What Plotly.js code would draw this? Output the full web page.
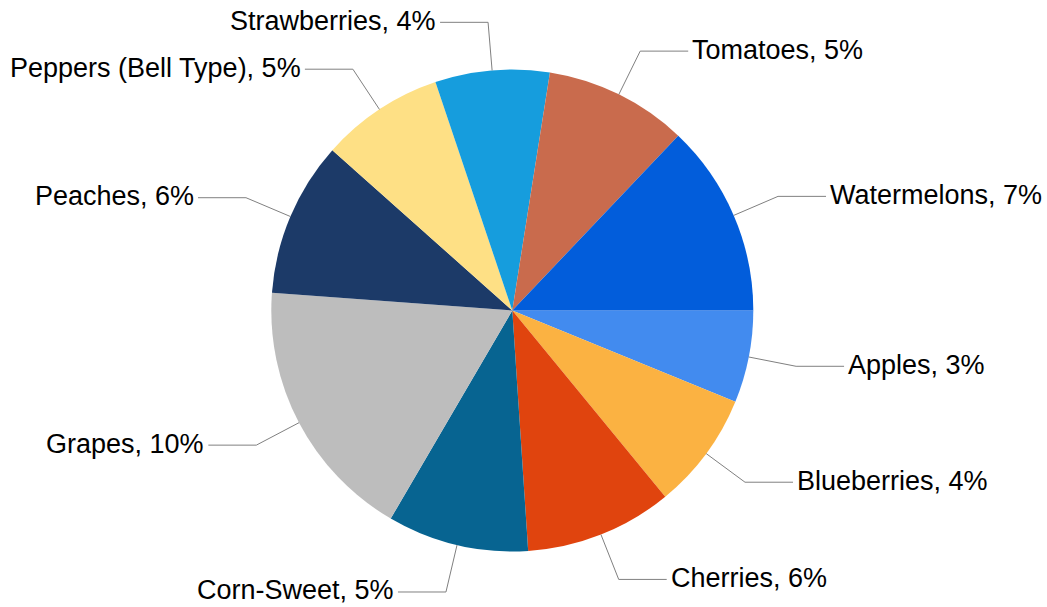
<!DOCTYPE html>
<html>
<head>
<meta charset="utf-8">
<script src="https://cdn.plot.ly/plotly-3.0.1.min.js"></script>
<style>html,body{margin:0;padding:0;background:#fff;}#chart{width:1047px;height:607px;}</style>
</head>
<body>
<div id="chart"></div>
<script>
// Data
const categories = ["Apples", "Blueberries", "Cherries", "Corn-Sweet", "Grapes", "Peaches",
  "Peppers (Bell Type)", "Strawberries", "Tomatoes", "Watermelons"];
const shares = [3.46, 4.41, 5.54, 5.30, 9.94, 5.83, 4.62, 4.29, 5.37, 7.23];
const sliceColors = ["#428bef", "#fbb242", "#e0440e", "#076491", "#bdbdbd", "#1c3a68",
  "#fee085", "#169ddd", "#c96b4d", "#025ddb"];

const W = 1047, H = 607;
const cx = 512.3, cy = 310.5, R = 241;   // pie centre / radius in px
const dom = {
  x: [(cx - R) / W, (cx + R) / W],
  y: [1 - (cy + R) / H, 1 - (cy - R) / H]
};

// leader lines + labels derived from slice mid-angles
const total = shares.reduce((a, b) => a + b, 0);
const shapes = [], annotations = [];
let acc = 0;
const px = x => x / W, py = y => 1 - y / H;
shares.forEach((v, i) => {
  const mid = (acc + v / 2) / total * 2 * Math.PI;   // clockwise from 3 o'clock
  acc += v;
  const c = Math.cos(mid), s = Math.sin(mid);
  const x0 = cx + R * c, y0 = cy + R * s;
  const x1 = cx + 1.2 * R * c, y1 = cy + 1.2 * R * s;
  const dir = c >= 0 ? 1 : -1;
  const x2 = x1 + dir * 48;
  shapes.push({
    type: "path", xref: "paper", yref: "paper",
    path: `M ${px(x0)} ${py(y0)} L ${px(x1)} ${py(y1)} L ${px(x2)} ${py(y1)}`,
    line: {color: "#808080", width: 1}
  });
  annotations.push({
    xref: "paper", yref: "paper", x: px(x2 + dir * 4), y: py(y1 - 1.5),
    xanchor: dir > 0 ? "left" : "right", yanchor: "middle",
    text: categories[i] + ", " + Math.round(v) + "%",
    showarrow: false, borderpad: 0, borderwidth: 0,
    font: {family: "Liberation Sans, Arial, sans-serif", size: 27, color: "#000"}
  });
});

Plotly.newPlot("chart", [{
  type: "pie",
  labels: categories,
  values: shares,
  sort: false,
  direction: "clockwise",
  rotation: 90,
  textinfo: "none",
  hoverinfo: "label+percent",
  marker: {colors: sliceColors, line: {width: 0}},
  domain: dom
}], {
  width: W, height: H,
  margin: {l: 0, r: 0, t: 0, b: 0},
  showlegend: false,
  paper_bgcolor: "#fff",
  shapes: shapes,
  annotations: annotations
}, {displayModeBar: false, staticPlot: true});
</script>
</body>
</html>
